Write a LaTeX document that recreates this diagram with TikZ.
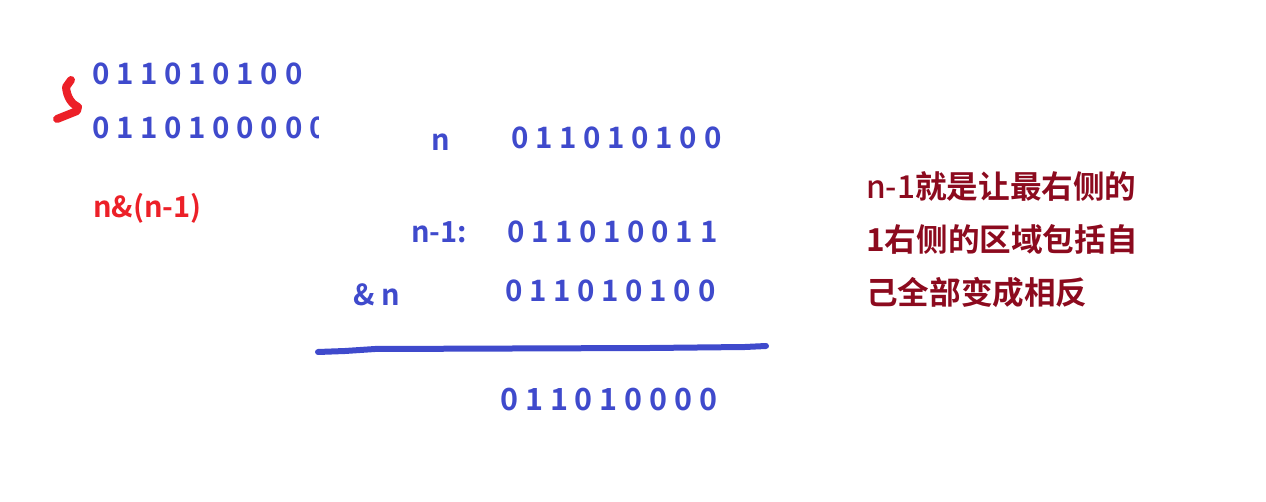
\documentclass[tikz,border=0pt]{standalone}
\usepackage{fontspec}
\setmainfont{Noto Sans CJK SC}
\newfontfamily\cjkb{Noto Sans CJK SC Bold}
\newfontfamily\cjkm{Noto Sans CJK SC Medium}
\definecolor{bitblue}{RGB}{63,74,204}
\definecolor{notered}{RGB}{236,32,40}
\definecolor{darkred}{RGB}{140,10,30}
\tikzset{
  bits/.style={anchor=base west, inner sep=0pt, text=bitblue, font=\cjkb\fontsize{29.5}{36}\selectfont},
  lbl/.style={anchor=base west, inner sep=0pt, text=bitblue, font=\cjkb\fontsize{29}{36}\selectfont},
  redlbl/.style={anchor=base west, inner sep=0pt, text=notered, font=\cjkb\fontsize{29}{36}\selectfont},
  explain/.style={anchor=north west, inner sep=0pt, text=darkred, align=left, font=\cjkb\fontsize{31.6}{53}\selectfont},
}
\begin{document}
\begin{tikzpicture}[x=1pt,y=-1pt]
\useasboundingbox (0,0) rectangle (1266,502);
% top-left
\node[bits] (a1) at (92,85) {0 1 1 0 1 0 1 0 0};
\begin{scope}
  \clip (0,0) rectangle (318,502);
  \node[bits] (a2) at (92,139) {0 1 1 0 1 0 0 0 0 0};
\end{scope}
\node[redlbl] (formula) at (93,218) {n\&(n-1)};
\draw[notered, line width=8pt, line cap=round, line join=round]
  (71,80) -- (66,87) .. controls (67,98) and (72,104) .. (78,107) -- (77,111) -- (57,119);
% middle block
\node[lbl] (ln) at (431,151) {n};
\node[bits] (bn) at (511,149) {0 1 1 0 1 0 1 0 0};
\node[lbl] (lm) at (411,243) {n-1:};
\node[bits] (bm) at (507,243) {0 1 1 0 1 0 0 1 1};
\node[lbl] (la) at (353,306) {\& n};
\node[bits] (ba) at (505,302) {0 1 1 0 1 0 1 0 0};
\draw[bitblue, line width=6pt, line cap=round, line join=round]
  (318,352) -- (345,351) -- (375,349) -- (650,348) -- (745,347) -- (766,346);
\node[bits, font=\cjkb\fontsize{30.5}{36}\selectfont] (res) at (500,410) {0 1 1 0 1 0 0 0 0};
% explanation
\node[explain] (exp) at (866,171) {{\cjkm n-1}就是让最右侧的\\1右侧的区域包括自\\己全部变成相反};
\end{tikzpicture}
\end{document}
